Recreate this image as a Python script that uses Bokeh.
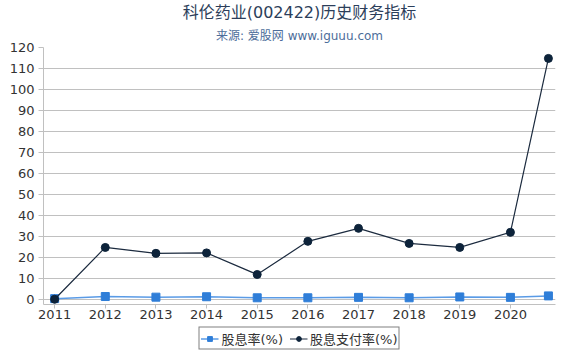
from bokeh.plotting import figure
from bokeh.models import Title, FixedTicker, Legend, LegendItem, Range1d
from bokeh.layouts import column
from bokeh.embed import file_html
from bokeh.resources import INLINE

# data
periods = [2011, 2012, 2013, 2014, 2015, 2016, 2017, 2018, 2019, 2020, 2020.75]
year_ticks = [2011, 2012, 2013, 2014, 2015, 2016, 2017, 2018, 2019, 2020]
dividend_yield = [0.3, 1.3, 1.0, 1.2, 0.7, 0.7, 0.9, 0.7, 1.1, 0.9, 1.6]
payout_ratio = [0.0, 24.7, 21.9, 22.1, 11.8, 27.6, 33.8, 26.6, 24.7, 31.9, 114.8]
y_ticks = list(range(0, 121, 10))
series_names = ["股息率(%)", "股息支付率(%)"]

FONT = "DejaVu Sans, Noto Sans CJK SC"
BLUE_LINE, BLUE = "#5a9be6", "#2f7ed8"
DARK_LINE, DARK = "#1c2b3f", "#0d233a"

p = figure(width=570, height=326, output_backend="svg", toolbar_location=None,
           x_range=Range1d(2010.78, 2020.89), y_range=Range1d(-2.5, 120),
           min_border_left=43, min_border_right=15, min_border_top=46, min_border_bottom=22)

p.add_layout(Title(text="来源: 爱股网 www.iguuu.com", align="center", text_font_size="12px",
                   text_font_style="normal", text_color="#4d6d9a", text_font=FONT,
                   standoff=10), "above")
p.add_layout(Title(text="科伦药业(002422)历史财务指标", align="center", text_font_size="16px",
                   text_font_style="normal", text_color="#2c3e5a", text_font=FONT,
                   standoff=0), "above")

p.outline_line_color = None
p.xgrid.grid_line_color = None
p.ygrid.grid_line_color = "#c0c0c0"
p.ygrid.ticker = FixedTicker(ticks=y_ticks)

p.yaxis.ticker = FixedTicker(ticks=y_ticks)
p.xaxis.ticker = FixedTicker(ticks=year_ticks)
for ax in (p.xaxis[0], p.yaxis[0]):
    ax.axis_label = None
    ax.axis_label_standoff = 0
    ax.axis_line_color = "#c0c0c0"
    ax.major_tick_line_color = "#c0c0c0"
    ax.minor_tick_line_color = None
    ax.major_tick_in = 0
    ax.major_tick_out = 5
    ax.major_label_text_font_size = "13px"
    ax.major_label_text_color = "#333333"
    ax.major_label_text_font = "DejaVu Sans"
p.yaxis.major_label_standoff = 4
p.xaxis.major_label_standoff = 1
p.xaxis.major_tick_out = 4

p.line(periods, dividend_yield, line_color=BLUE_LINE, line_width=1.5)
p.scatter(periods, dividend_yield, marker="square", size=8, fill_color=BLUE, line_color=BLUE)
p.line(periods, payout_ratio, line_color=DARK_LINE, line_width=1.2)
p.scatter(periods, payout_ratio, marker="circle", size=8, fill_color=DARK, line_color=DARK)

# legend strip below the chart (its series lie outside this strip's view)
q = figure(width=570, height=24, output_backend="svg", toolbar_location=None,
           x_range=Range1d(0, 1), y_range=Range1d(0, 1), min_border=0)
q.axis.visible = False
q.grid.visible = False
q.outline_line_color = None
k1 = q.line(periods, dividend_yield, line_color=BLUE_LINE, line_width=1.5)
k2 = q.scatter(periods, dividend_yield, marker="square", size=8, fill_color=BLUE, line_color=BLUE)
k3 = q.line(periods, payout_ratio, line_color=DARK_LINE, line_width=1.2)
k4 = q.scatter(periods, payout_ratio, marker="circle", size=8, fill_color=DARK, line_color=DARK)

legend = Legend(items=[LegendItem(label=series_names[0], renderers=[k1, k2]),
                       LegendItem(label=series_names[1], renderers=[k3, k4])],
                orientation="horizontal", location="center",
                border_line_color="black", border_line_width=1,
                label_text_font_size="13px", label_text_color="#333333",
                label_text_font=FONT, glyph_width=18, glyph_height=12, label_standoff=3,
                spacing=6, padding=1, margin=0, label_height=12, background_fill_alpha=1)
q.add_layout(legend, "center")

open("out.html", "w").write(file_html(column(p, q, spacing=0), INLINE))
